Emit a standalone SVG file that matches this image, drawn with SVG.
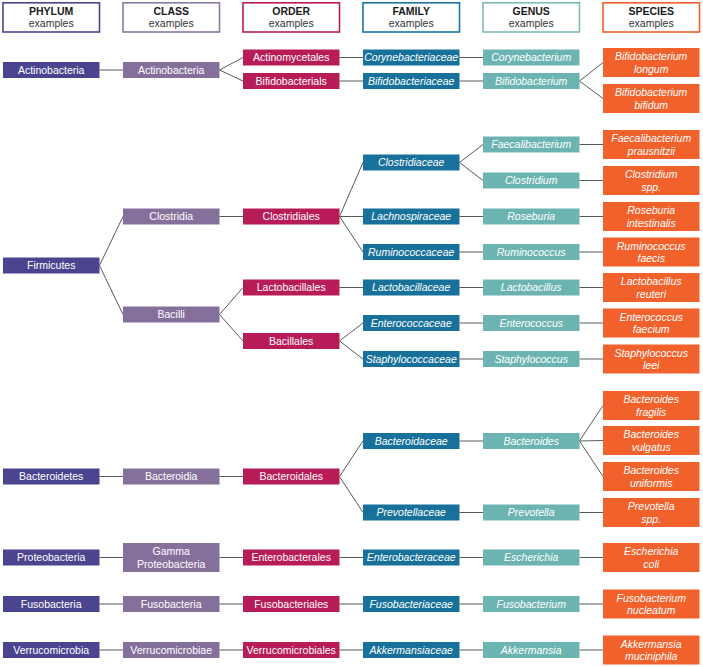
<svg xmlns="http://www.w3.org/2000/svg" width="703" height="667" viewBox="0 0 703 667">
<style>
text{font-family:"Liberation Sans",Arial,sans-serif;font-size:10.5px;text-anchor:middle}
.hd rect{fill:#fff;stroke-width:1.6}
.hd .t{font-weight:bold;fill:#1a1a1a}
.hd .s{fill:#333}
.n text{fill:#fff}
.it text{font-style:italic}
.ph rect{fill:#4b4590}
.cl rect{fill:#85709c}
.or rect{fill:#b81c58}
.fa rect{fill:#18719a}
.ge rect{fill:#6cb4b1}
.sp rect{fill:#f0612b}
#connectors line{stroke:#5a5a5a;stroke-width:1}
</style>
<rect width="703" height="667" fill="#fff"/>
<g id="headers" class="hd">
<g id="h-phylum"><rect x="3" y="2.8" width="96.5" height="29.2" stroke="#4b4590"/><text class="t" x="51.2" y="14.5">PHYLUM</text><text class="s" x="51.2" y="26.5">examples</text></g>
<g id="h-class"><rect x="123" y="2.8" width="96.5" height="29.2" stroke="#8a7aa0"/><text class="t" x="171.2" y="14.5">CLASS</text><text class="s" x="171.2" y="26.5">examples</text></g>
<g id="h-order"><rect x="243" y="2.8" width="96.5" height="29.2" stroke="#b81c58"/><text class="t" x="291.2" y="14.5">ORDER</text><text class="s" x="291.2" y="26.5">examples</text></g>
<g id="h-family"><rect x="363" y="2.8" width="96.5" height="29.2" stroke="#1a74a0"/><text class="t" x="411.2" y="14.5">FAMILY</text><text class="s" x="411.2" y="26.5">examples</text></g>
<g id="h-genus"><rect x="483" y="2.8" width="96.5" height="29.2" stroke="#7dbcb9"/><text class="t" x="531.2" y="14.5">GENUS</text><text class="s" x="531.2" y="26.5">examples</text></g>
<g id="h-species"><rect x="603" y="2.8" width="96.5" height="29.2" stroke="#f0612b"/><text class="t" x="651.2" y="14.5">SPECIES</text><text class="s" x="651.2" y="26.5">examples</text></g>
</g>
<g id="connectors">
<line x1="99.5" y1="70" x2="123" y2="70"/>
<line x1="99.5" y1="265.5" x2="123" y2="216.5"/>
<line x1="99.5" y1="265.5" x2="123" y2="314.5"/>
<line x1="99.5" y1="476.5" x2="123" y2="476.5"/>
<line x1="99.5" y1="557.5" x2="123" y2="557.5"/>
<line x1="99.5" y1="604" x2="123" y2="604"/>
<line x1="99.5" y1="650" x2="123" y2="650"/>
<line x1="219.5" y1="70" x2="243" y2="57.5"/>
<line x1="219.5" y1="70" x2="243" y2="81"/>
<line x1="219.5" y1="216.5" x2="243" y2="216.5"/>
<line x1="219.5" y1="314.5" x2="243" y2="287.5"/>
<line x1="219.5" y1="314.5" x2="243" y2="341"/>
<line x1="219.5" y1="476.5" x2="243" y2="476.5"/>
<line x1="219.5" y1="557.5" x2="243" y2="557.5"/>
<line x1="219.5" y1="604" x2="243" y2="604"/>
<line x1="219.5" y1="650" x2="243" y2="650"/>
<line x1="339.5" y1="57.5" x2="363" y2="57.5"/>
<line x1="339.5" y1="81" x2="363" y2="81"/>
<line x1="339.5" y1="216.5" x2="363" y2="162.5"/>
<line x1="339.5" y1="216.5" x2="363" y2="216.5"/>
<line x1="339.5" y1="216.5" x2="363" y2="252"/>
<line x1="339.5" y1="287.5" x2="363" y2="287.5"/>
<line x1="339.5" y1="341" x2="363" y2="323"/>
<line x1="339.5" y1="341" x2="363" y2="359"/>
<line x1="339.5" y1="476.5" x2="363" y2="441"/>
<line x1="339.5" y1="476.5" x2="363" y2="512.5"/>
<line x1="339.5" y1="557.5" x2="363" y2="557.5"/>
<line x1="339.5" y1="604" x2="363" y2="604"/>
<line x1="339.5" y1="650" x2="363" y2="650"/>
<line x1="459.5" y1="57.5" x2="483" y2="57.5"/>
<line x1="459.5" y1="81" x2="483" y2="81"/>
<line x1="459.5" y1="162.5" x2="483" y2="144.5"/>
<line x1="459.5" y1="162.5" x2="483" y2="180.5"/>
<line x1="459.5" y1="216.5" x2="483" y2="216.5"/>
<line x1="459.5" y1="252" x2="483" y2="252"/>
<line x1="459.5" y1="287.5" x2="483" y2="287.5"/>
<line x1="459.5" y1="323" x2="483" y2="323"/>
<line x1="459.5" y1="359" x2="483" y2="359"/>
<line x1="459.5" y1="441" x2="483" y2="441"/>
<line x1="459.5" y1="512.5" x2="483" y2="512.5"/>
<line x1="459.5" y1="557.5" x2="483" y2="557.5"/>
<line x1="459.5" y1="604" x2="483" y2="604"/>
<line x1="459.5" y1="650" x2="483" y2="650"/>
<line x1="579.5" y1="81" x2="603" y2="62.5"/>
<line x1="579.5" y1="81" x2="603" y2="98.5"/>
<line x1="579.5" y1="144.5" x2="603" y2="144.5"/>
<line x1="579.5" y1="180.5" x2="603" y2="180.5"/>
<line x1="579.5" y1="216.5" x2="603" y2="216.5"/>
<line x1="579.5" y1="252" x2="603" y2="252"/>
<line x1="579.5" y1="287.5" x2="603" y2="287.5"/>
<line x1="579.5" y1="323" x2="603" y2="323"/>
<line x1="579.5" y1="359" x2="603" y2="359"/>
<line x1="579.5" y1="441" x2="603" y2="405.5"/>
<line x1="579.5" y1="441" x2="603" y2="440.5"/>
<line x1="579.5" y1="441" x2="603" y2="476.5"/>
<line x1="579.5" y1="512.5" x2="603" y2="512.5"/>
<line x1="579.5" y1="557.5" x2="603" y2="557.5"/>
<line x1="579.5" y1="604" x2="603" y2="604"/>
<line x1="579.5" y1="650" x2="603" y2="650"/>
</g>
<g class="n ph">
<g id="p-actinobacteria"><rect x="3" y="62" width="96.5" height="16"/><text x="51.2" y="73.7">Actinobacteria</text></g>
<g id="p-firmicutes"><rect x="3" y="257.5" width="96.5" height="16"/><text x="51.2" y="269.2">Firmicutes</text></g>
<g id="p-bacteroidetes"><rect x="3" y="468.5" width="96.5" height="16"/><text x="51.2" y="480.2">Bacteroidetes</text></g>
<g id="p-proteobacteria"><rect x="3" y="549.5" width="96.5" height="16"/><text x="51.2" y="561.2">Proteobacteria</text></g>
<g id="p-fusobacteria"><rect x="3" y="596" width="96.5" height="16"/><text x="51.2" y="607.7">Fusobacteria</text></g>
<g id="p-verrucomicrobia"><rect x="3" y="642" width="96.5" height="16"/><text x="51.2" y="653.7">Verrucomicrobia</text></g>
</g>
<g class="n cl">
<g id="c-actinobacteria"><rect x="123" y="62" width="96.5" height="16"/><text x="171.2" y="73.7">Actinobacteria</text></g>
<g id="c-clostridia"><rect x="123" y="208.5" width="96.5" height="16"/><text x="171.2" y="220.2">Clostridia</text></g>
<g id="c-bacilli"><rect x="123" y="306.5" width="96.5" height="16"/><text x="171.2" y="318.2">Bacilli</text></g>
<g id="c-bacteroidia"><rect x="123" y="468.5" width="96.5" height="16"/><text x="171.2" y="480.2">Bacteroidia</text></g>
<g id="c-gammaproteobacteria"><rect x="123" y="543" width="96.5" height="29"/><text x="171.2" y="555.3">Gamma</text><text x="171.2" y="567.8">Proteobacteria</text></g>
<g id="c-fusobacteria"><rect x="123" y="596" width="96.5" height="16"/><text x="171.2" y="607.7">Fusobacteria</text></g>
<g id="c-verrucomicrobiae"><rect x="123" y="642" width="96.5" height="16"/><text x="171.2" y="653.7">Verrucomicrobiae</text></g>
</g>
<g class="n or">
<g id="o-actinomycetales"><rect x="243" y="49.5" width="96.5" height="16"/><text x="291.2" y="61.2">Actinomycetales</text></g>
<g id="o-bifidobacterials"><rect x="243" y="73" width="96.5" height="16"/><text x="291.2" y="84.7">Bifidobacterials</text></g>
<g id="o-clostridiales"><rect x="243" y="208.5" width="96.5" height="16"/><text x="291.2" y="220.2">Clostridiales</text></g>
<g id="o-lactobacillales"><rect x="243" y="279.5" width="96.5" height="16"/><text x="291.2" y="291.2">Lactobacillales</text></g>
<g id="o-bacillales"><rect x="243" y="333" width="96.5" height="16"/><text x="291.2" y="344.7">Bacillales</text></g>
<g id="o-bacteroidales"><rect x="243" y="468.5" width="96.5" height="16"/><text x="291.2" y="480.2">Bacteroidales</text></g>
<g id="o-enterobacterales"><rect x="243" y="549.5" width="96.5" height="16"/><text x="291.2" y="561.2">Enterobacterales</text></g>
<g id="o-fusobacteriales"><rect x="243" y="596" width="96.5" height="16"/><text x="291.2" y="607.7">Fusobacteriales</text></g>
<g id="o-verrucomicrobiales"><rect x="243" y="642" width="96.5" height="16"/><text x="291.2" y="653.7">Verrucomicrobiales</text></g>
</g>
<g class="n it fa">
<g id="f-corynebacteriaceae"><rect x="363" y="49.5" width="96.5" height="16"/><text x="411.2" y="61.2">Corynebacteriaceae</text></g>
<g id="f-bifidobacteriaceae"><rect x="363" y="73" width="96.5" height="16"/><text x="411.2" y="84.7">Bifidobacteriaceae</text></g>
<g id="f-clostridiaceae"><rect x="363" y="154.5" width="96.5" height="16"/><text x="411.2" y="166.2">Clostridiaceae</text></g>
<g id="f-lachnospiraceae"><rect x="363" y="208.5" width="96.5" height="16"/><text x="411.2" y="220.2">Lachnospiraceae</text></g>
<g id="f-ruminococcaceae"><rect x="363" y="244" width="96.5" height="16"/><text x="411.2" y="255.7">Ruminococcaceae</text></g>
<g id="f-lactobacillaceae"><rect x="363" y="279.5" width="96.5" height="16"/><text x="411.2" y="291.2">Lactobacillaceae</text></g>
<g id="f-enterococcaceae"><rect x="363" y="315" width="96.5" height="16"/><text x="411.2" y="326.7">Enterococcaceae</text></g>
<g id="f-staphylococcaceae"><rect x="363" y="351" width="96.5" height="16"/><text x="411.2" y="362.7">Staphylococcaceae</text></g>
<g id="f-bacteroidaceae"><rect x="363" y="433" width="96.5" height="16"/><text x="411.2" y="444.7">Bacteroidaceae</text></g>
<g id="f-prevotellaceae"><rect x="363" y="504.5" width="96.5" height="16"/><text x="411.2" y="516.2">Prevotellaceae</text></g>
<g id="f-enterobacteraceae"><rect x="363" y="549.5" width="96.5" height="16"/><text x="411.2" y="561.2">Enterobacteraceae</text></g>
<g id="f-fusobacteriaceae"><rect x="363" y="596" width="96.5" height="16"/><text x="411.2" y="607.7">Fusobacteriaceae</text></g>
<g id="f-akkermansiaceae"><rect x="363" y="642" width="96.5" height="16"/><text x="411.2" y="653.7">Akkermansiaceae</text></g>
</g>
<g class="n it ge">
<g id="g-corynebacterium"><rect x="483" y="49.5" width="96.5" height="16"/><text x="531.2" y="61.2">Corynebacterium</text></g>
<g id="g-bifidobacterium"><rect x="483" y="73" width="96.5" height="16"/><text x="531.2" y="84.7">Bifidobacterium</text></g>
<g id="g-faecalibacterium"><rect x="483" y="136.5" width="96.5" height="16"/><text x="531.2" y="148.2">Faecalibacterium</text></g>
<g id="g-clostridium"><rect x="483" y="172.5" width="96.5" height="16"/><text x="531.2" y="184.2">Clostridium</text></g>
<g id="g-roseburia"><rect x="483" y="208.5" width="96.5" height="16"/><text x="531.2" y="220.2">Roseburia</text></g>
<g id="g-ruminococcus"><rect x="483" y="244" width="96.5" height="16"/><text x="531.2" y="255.7">Ruminococcus</text></g>
<g id="g-lactobacillus"><rect x="483" y="279.5" width="96.5" height="16"/><text x="531.2" y="291.2">Lactobacillus</text></g>
<g id="g-enterococcus"><rect x="483" y="315" width="96.5" height="16"/><text x="531.2" y="326.7">Enterococcus</text></g>
<g id="g-staphylococcus"><rect x="483" y="351" width="96.5" height="16"/><text x="531.2" y="362.7">Staphylococcus</text></g>
<g id="g-bacteroides"><rect x="483" y="433" width="96.5" height="16"/><text x="531.2" y="444.7">Bacteroides</text></g>
<g id="g-prevotella"><rect x="483" y="504.5" width="96.5" height="16"/><text x="531.2" y="516.2">Prevotella</text></g>
<g id="g-escherichia"><rect x="483" y="549.5" width="96.5" height="16"/><text x="531.2" y="561.2">Escherichia</text></g>
<g id="g-fusobacterium"><rect x="483" y="596" width="96.5" height="16"/><text x="531.2" y="607.7">Fusobacterium</text></g>
<g id="g-akkermansia"><rect x="483" y="642" width="96.5" height="16"/><text x="531.2" y="653.7">Akkermansia</text></g>
</g>
<g class="n it sp">
<g id="s-b-longum"><rect x="603" y="48" width="96.5" height="29"/><text x="651.2" y="60.3">Bifidobacterium</text><text x="651.2" y="72.8">longum</text></g>
<g id="s-b-bifidum"><rect x="603" y="84" width="96.5" height="29"/><text x="651.2" y="96.3">Bifidobacterium</text><text x="651.2" y="108.8">bifidum</text></g>
<g id="s-f-prausnitzii"><rect x="603" y="130" width="96.5" height="29"/><text x="651.2" y="142.3">Faecalibacterium</text><text x="651.2" y="154.8">prausnitzii</text></g>
<g id="s-c-spp"><rect x="603" y="166" width="96.5" height="29"/><text x="651.2" y="178.3">Clostridium</text><text x="651.2" y="190.8">spp.</text></g>
<g id="s-r-intestinalis"><rect x="603" y="202" width="96.5" height="29"/><text x="651.2" y="214.3">Roseburia</text><text x="651.2" y="226.8">intestinalis</text></g>
<g id="s-r-faecis"><rect x="603" y="237.5" width="96.5" height="29"/><text x="651.2" y="249.8">Ruminococcus</text><text x="651.2" y="262.3">faecis</text></g>
<g id="s-l-reuteri"><rect x="603" y="273" width="96.5" height="29"/><text x="651.2" y="285.3">Lactobacillus</text><text x="651.2" y="297.8">reuteri</text></g>
<g id="s-e-faecium"><rect x="603" y="308.5" width="96.5" height="29"/><text x="651.2" y="320.8">Enterococcus</text><text x="651.2" y="333.3">faecium</text></g>
<g id="s-s-leei"><rect x="603" y="344.5" width="96.5" height="29"/><text x="651.2" y="356.8">Staphylococcus</text><text x="651.2" y="369.3">leei</text></g>
<g id="s-b-fragilis"><rect x="603" y="391" width="96.5" height="29"/><text x="651.2" y="403.3">Bacteroides</text><text x="651.2" y="415.8">fragilis</text></g>
<g id="s-b-vulgatus"><rect x="603" y="426" width="96.5" height="29"/><text x="651.2" y="438.3">Bacteroides</text><text x="651.2" y="450.8">vulgatus</text></g>
<g id="s-b-uniformis"><rect x="603" y="462" width="96.5" height="29"/><text x="651.2" y="474.3">Bacteroides</text><text x="651.2" y="486.8">uniformis</text></g>
<g id="s-p-spp"><rect x="603" y="498" width="96.5" height="29"/><text x="651.2" y="510.3">Prevotella</text><text x="651.2" y="522.8">spp.</text></g>
<g id="s-e-coli"><rect x="603" y="543" width="96.5" height="29"/><text x="651.2" y="555.3">Escherichia</text><text x="651.2" y="567.8">coli</text></g>
<g id="s-f-nucleatum"><rect x="603" y="589.5" width="96.5" height="29"/><text x="651.2" y="601.8">Fusobacterium</text><text x="651.2" y="614.3">nucleatum</text></g>
<g id="s-a-muciniphila"><rect x="603" y="635.5" width="96.5" height="29"/><text x="651.2" y="647.8">Akkermansia</text><text x="651.2" y="660.3">muciniphila</text></g>
</g>
</svg>
